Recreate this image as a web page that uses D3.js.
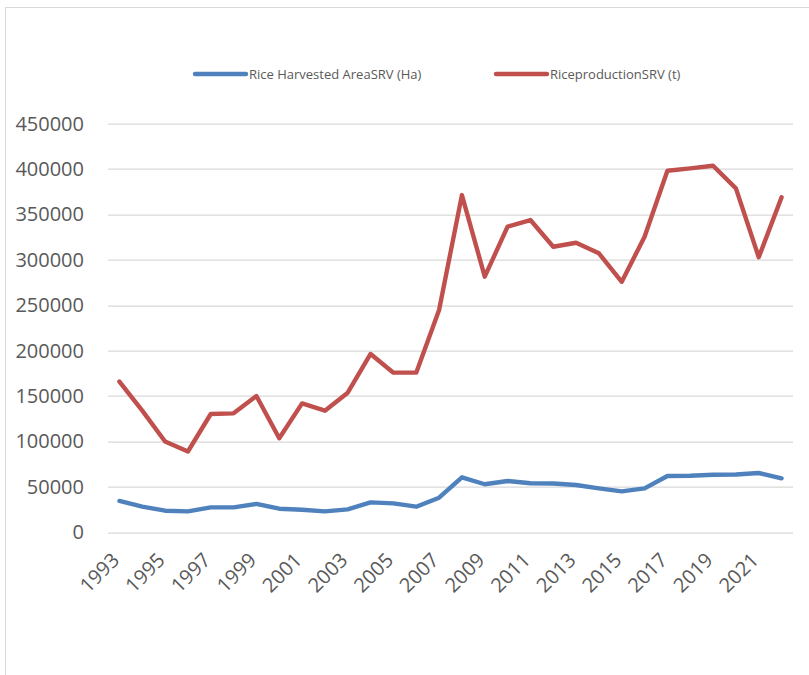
<!DOCTYPE html>
<html>
<head>
<meta charset="utf-8">
<script src="https://cdn.jsdelivr.net/npm/d3@7"></script>
<style>
  body { margin: 0; background: #fff; }
  text { font-family: "Open Sans", sans-serif; fill: #595959; }
</style>
</head>
<body>
<svg id="chart"></svg>
<script>
// Data
const years = d3.range(1993, 2023);
const harvestedArea = [34500, 28200, 23800, 23100, 27500, 27500, 31200, 26000, 24900, 23100,
  25300, 33000, 31900, 28200, 38100, 60600, 52900, 56500, 54000, 53700,
  52100, 48400, 45100, 48400, 62000, 62300, 63400, 63700, 65300, 59500];
const production = [166000, 134000, 100000, 89000, 130300, 131000, 150100, 103500, 142000, 133900,
  153700, 196400, 175800, 175800, 244800, 371400, 281500, 336600, 343900, 314500,
  318900, 307200, 275900, 325500, 398200, 400800, 403700, 378800, 302900, 368900];
const yTicks = d3.range(0, 450001, 50000);
const seriesNames = ["Rice Harvested AreaSRV (Ha)", "RiceproductionSRV (t)"];
const seriesColors = ["#4F81BD", "#C0504D"];

const W = 809, H = 675;
const margin = { top: 123.7, right: 16, bottom: 142.7, left: 108 };
const width = W - margin.left - margin.right;
const height = H - margin.top - margin.bottom;

const root = d3.select("#chart").attr("width", W).attr("height", H);

// Outer chart frame
root.append("rect")
    .attr("x", 5.5).attr("y", 7.5)
    .attr("width", W + 10).attr("height", H + 10)
    .attr("fill", "none")
    .attr("stroke", "#d9d9d9")
    .attr("stroke-width", 1);

const svg = root.append("g")
    .attr("transform", `translate(${margin.left}, ${margin.top})`);

// Scales
const xScale = d3.scaleBand().domain(years).range([0, width]);
const yScale = d3.scaleLinear().domain([0, 450000]).range([height, 0]);
const xPos = d => xScale(d) + xScale.bandwidth() / 2;

// Gridlines
svg.append("g")
    .selectAll("line")
    .data(yTicks)
    .enter().append("line")
    .attr("x1", 0)
    .attr("x2", width)
    .attr("y1", d => Math.round(yScale(d)) + 0.5)
    .attr("y2", d => Math.round(yScale(d)) + 0.5)
    .attr("stroke", "#d9d9d9")
    .attr("stroke-width", 1.3);

// Y axis labels
const yAxis = svg.append("g")
    .call(d3.axisLeft(yScale).tickValues(yTicks).tickSize(0).tickPadding(24).tickFormat(d3.format("d")));
yAxis.select(".domain").remove();
yAxis.selectAll("text")
    .style("font-size", "20px")
    .style("fill", "#595959");

// X axis labels (every other year)
const xAxis = svg.append("g")
    .attr("transform", `translate(0, ${height})`)
    .call(d3.axisBottom(xScale).tickValues(years.filter((d, i) => i % 2 === 0)).tickSize(0));
xAxis.select(".domain").remove();
xAxis.selectAll("text")
    .style("font-size", "20px")
    .style("fill", "#595959")
    .attr("text-anchor", "end")
    .attr("dy", "0.35em")
    .attr("transform", "translate(-6, 22) rotate(-45)");

// Lines
const line = d3.line()
    .x((d, i) => xPos(years[i]))
    .y(d => yScale(d));

[harvestedArea, production].forEach((series, i) => {
    svg.append("path")
        .datum(series)
        .attr("d", line)
        .attr("fill", "none")
        .attr("stroke", seriesColors[i])
        .attr("stroke-width", 4.4)
        .attr("stroke-linejoin", "round")
        .attr("stroke-linecap", "round");
});

// Legend
const legendX = [195, 496];
const legend = root.append("g");
seriesNames.forEach((name, i) => {
    legend.append("line")
        .attr("x1", legendX[i]).attr("x2", legendX[i] + 51)
        .attr("y1", 74).attr("y2", 74)
        .attr("stroke", seriesColors[i])
        .attr("stroke-width", 4.4)
        .attr("stroke-linecap", "round");
    legend.append("text")
        .attr("x", legendX[i] + 54)
        .attr("y", 74)
        .attr("dy", "0.35em")
        .style("font-size", "13px")
        .text(name);
});
</script>
</body>
</html>
